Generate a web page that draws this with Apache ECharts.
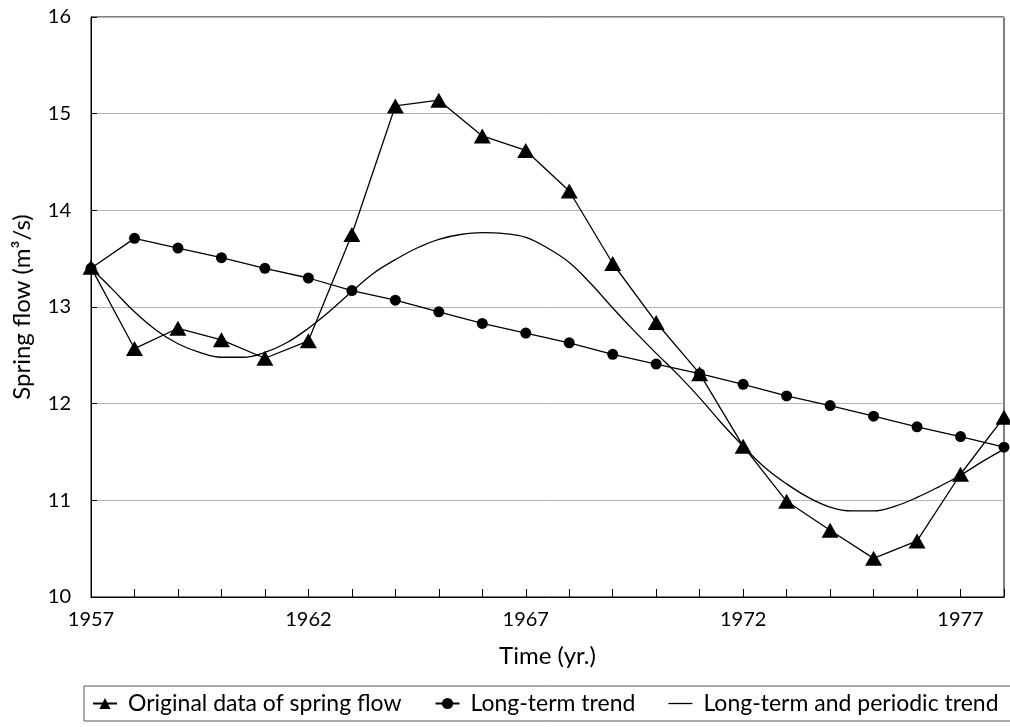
<!DOCTYPE html>
<html>
<head>
<meta charset="utf-8">
<script src="https://cdn.jsdelivr.net/npm/echarts@6/dist/echarts.min.js"></script>
<style>
  html, body { margin: 0; padding: 0; background: #fff; }
  #chart { width: 1010px; height: 727px; }
</style>
</head>
<body>
<div id="chart"></div>
<script>
// yearly observations
const years = [1957, 1958, 1959, 1960, 1961, 1962, 1963, 1964, 1965, 1966, 1967,
  1968, 1969, 1970, 1971, 1972, 1973, 1974, 1975, 1976, 1977, 1978]

// spring flow, m3/s
const original = [13.41, 12.57, 12.78, 12.66, 12.47, 12.65, 13.75, 15.08, 15.14, 14.77, 14.62,
  14.2, 13.45, 12.84, 12.31, 11.56, 10.99, 10.69, 10.4, 10.58, 11.27, 11.86]
const longTerm = [13.4, 13.71, 13.61, 13.51, 13.4, 13.3, 13.17, 13.07, 12.95, 12.83, 12.73,
  12.63, 12.51, 12.41, 12.31, 12.2, 12.08, 11.98, 11.87, 11.76, 11.66, 11.55]

// long-term + periodic curve, read every half year
const curveYears = [1957, 1957.5, 1958, 1958.5, 1959, 1959.5, 1960, 1960.5, 1961, 1961.5, 1962,
  1962.5, 1963, 1963.5, 1964, 1964.5, 1965, 1965.5, 1966, 1966.5, 1967, 1967.5, 1968,
  1968.5, 1969, 1969.5, 1970, 1970.5, 1971, 1971.5, 1972, 1972.5, 1973, 1973.5, 1974,
  1974.5, 1975, 1975.5, 1976, 1976.5, 1977, 1977.5, 1978]
const curveValues = [13.4, 13.18, 12.95, 12.76, 12.62, 12.53, 12.48, 12.48, 12.53, 12.63, 12.78,
  12.96, 13.16, 13.35, 13.49, 13.61, 13.7, 13.75, 13.77, 13.76, 13.72, 13.61, 13.46,
  13.24, 12.99, 12.75, 12.52, 12.3, 12.06, 11.8, 11.56, 11.34, 11.17, 11.03, 10.93,
  10.89, 10.89, 10.94, 11.03, 11.14, 11.26, 11.4, 11.53]

const names = ['Original data of spring flow', 'Long-term trend', 'Long-term and periodic trend']

const font = 'Lato, "Open Sans", sans-serif'

const pairs = (xs, ys) => xs.map((x, i) => [x, ys[i]])

const chart = echarts.init(document.getElementById('chart'))

chart.setOption({
  animation: false,
  textStyle: { fontFamily: font, color: '#000' },
  grid: {
    left: 91,
    right: 6,
    top: 17,
    bottom: 130,
    show: true,
    borderColor: '#000',
    borderWidth: 1
  },
  legend: {
    data: [
      { name: names[0] },
      { name: names[1] },
      { name: names[2], icon: 'path://M0,0H24V1.3H0Z' }
    ],
    left: 84,
    top: 686,
    width: 960,
    padding: [6, 30, 6, 8],
    itemGap: 33,
    itemWidth: 24,
    itemHeight: 14,
    borderColor: '#555',
    borderWidth: 1,
    textStyle: { fontFamily: font, fontSize: 23, color: '#000', padding: [0, 0, 0, 6] }
  },
  xAxis: {
    type: 'value',
    min: 1957,
    max: 1978,
    interval: 1,
    name: 'Time (yr.)',
    nameLocation: 'middle',
    nameGap: 47,
    nameTextStyle: { fontSize: 24, color: '#000' },
    axisLine: { lineStyle: { color: '#000', width: 1 } },
    axisTick: { inside: true, length: 8, lineStyle: { color: '#000' } },
    axisLabel: {
      fontSize: 20,
      color: '#000',
      margin: 13,
      formatter: (v) => ((v - 1957) % 5 === 0 ? String(v) : '')
    },
    splitLine: { show: false }
  },
  yAxis: {
    type: 'value',
    min: 10,
    max: 16,
    interval: 1,
    name: 'Spring flow (m³/s)',
    nameLocation: 'middle',
    nameGap: 57,
    nameTextStyle: { fontSize: 24, color: '#000' },
    axisLine: { show: true, lineStyle: { color: '#000', width: 1 } },
    axisTick: { show: true, inside: true, length: 6, lineStyle: { color: '#000' } },
    axisLabel: { fontSize: 20, color: '#000', margin: 20 },
    splitLine: { lineStyle: { color: '#b4b4b4', width: 1 } }
  },
  series: [
    {
      name: names[2],
      type: 'line',
      data: pairs(curveYears, curveValues),
      smooth: 0.4,
      symbol: 'none',
      lineStyle: { color: '#000', width: 1.3 },
      itemStyle: { color: '#000' },
      z: 2
    },
    {
      name: names[1],
      type: 'line',
      data: pairs(years, longTerm),
      symbol: 'circle',
      symbolSize: 11,
      showAllSymbol: true,
      lineStyle: { color: '#000', width: 1.3 },
      itemStyle: { color: '#000' },
      z: 3
    },
    {
      name: names[0],
      type: 'line',
      data: pairs(years, original),
      symbol: 'triangle',
      symbolSize: [17, 15],
      showAllSymbol: true,
      lineStyle: { color: '#000', width: 1.3 },
      itemStyle: { color: '#000' },
      z: 4
    }
  ]
})
</script>
</body>
</html>
